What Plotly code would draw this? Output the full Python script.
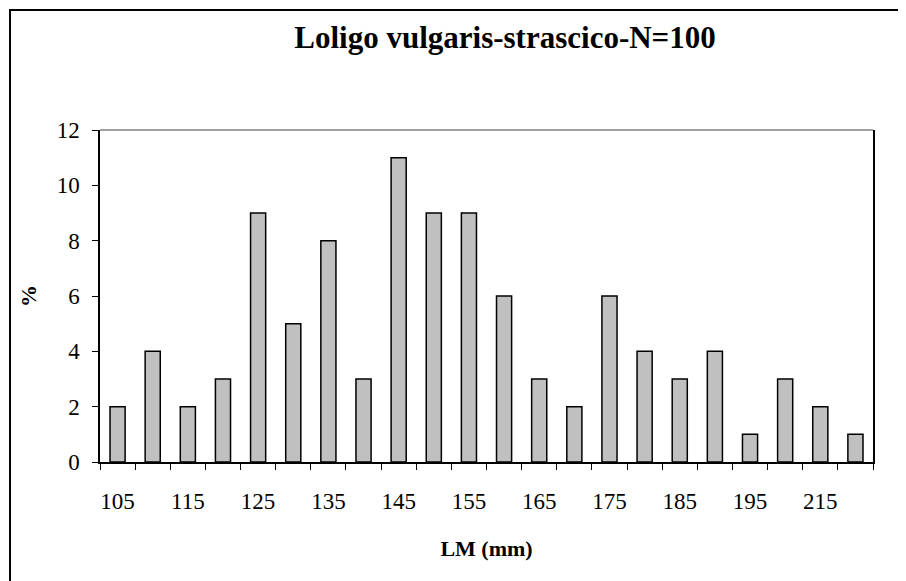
import plotly.graph_objects as go

# size classes (mm) and percentage of individuals
categories = ["105", "110", "115", "120", "125", "130", "135", "140", "145", "150", "155",
              "160", "165", "170", "175", "180", "185", "190", "195", "205", "215", "225"]
percent = [2, 4, 2, 3, 9, 5, 8, 3, 11, 9, 9, 6, 3, 2, 6, 4, 3, 4, 1, 3, 2, 1]
tick_labels = [c if i % 2 == 0 else "" for i, c in enumerate(categories)]

serif = "Times New Roman"

fig = go.Figure()
fig.add_trace(go.Bar(
    x=categories, y=percent,
    marker=dict(color="#C0C0C0", line=dict(color="black", width=1.5)),
    width=0.43,
))

# page has an 8px body margin, so margins are shifted to land the plot area at 100..873 / 130..462
fig.update_layout(
    width=906, height=581,
    margin=dict(l=92, r=41, t=122, b=127, autoexpand=False),
    paper_bgcolor="white", plot_bgcolor="white",
    showlegend=False,
    font=dict(family=serif, color="black", size=23),
    title=dict(text="Loligo vulgaris-strascico-N=100", x=0.5486, xanchor="center",
               y=0.950, yanchor="middle",
               font=dict(size=31, family=serif, weight="bold", color="black")),
)
fig.update_xaxes(
    type="category", tickvals=categories, ticktext=tick_labels, tickangle=0,
    tickson="boundaries", ticks="outside", ticklen=6, tickcolor="black",
    showline=True, linecolor="black", linewidth=1.5, showgrid=False,
    title=dict(text="LM (mm)", font=dict(size=22, weight="bold"), standoff=27),
    ticklabelstandoff=18, automargin=False,
)
fig.update_yaxes(
    range=[0, 12], dtick=2, ticks="outside", ticklen=6, tickcolor="black",
    showline=True, linecolor="black", linewidth=1.5, mirror=True, showgrid=False,
    zeroline=False, automargin=False, ticklabelstandoff=8,
    title=dict(text="%", font=dict(size=22, weight="bold"), standoff=14),
)

# grey top border of the plot area
fig.add_shape(type="line", xref="paper", yref="paper", x0=0, x1=1, y0=1, y1=1,
              line=dict(color="#808080", width=1.5))
# outer chart frame
fig.add_shape(type="rect", xref="paper", yref="paper",
              x0=-0.1164, x1=1.2, y0=-0.6, y1=1.3614,
              line=dict(color="black", width=2))

fig.write_html("out.html")
